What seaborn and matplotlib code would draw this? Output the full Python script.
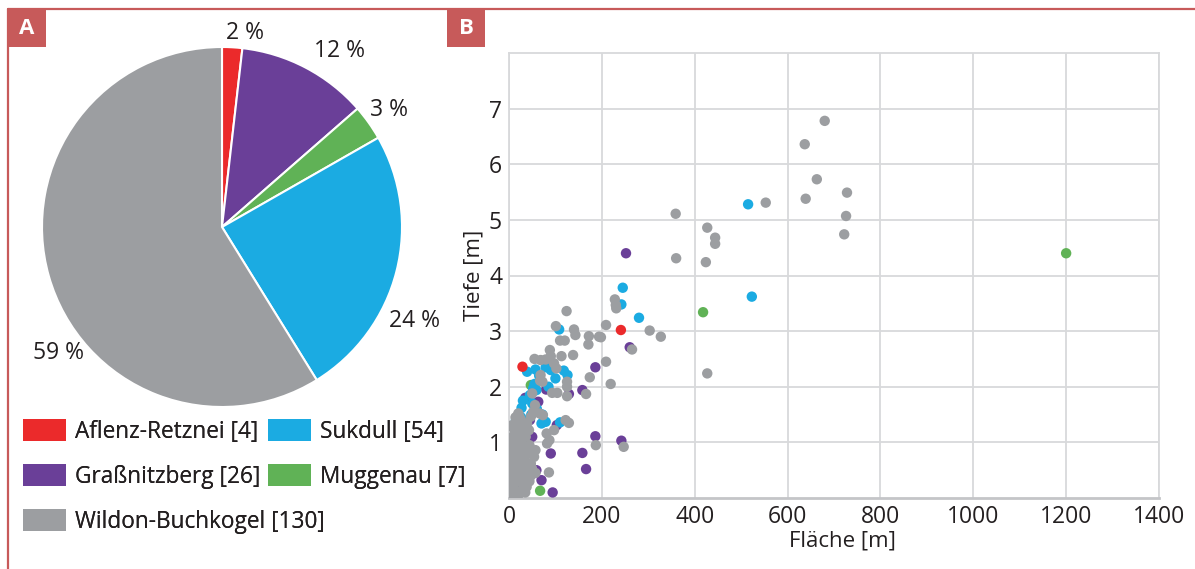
import matplotlib
matplotlib.use("Agg")
import matplotlib.pyplot as plt
import matplotlib.patches as mpatches
import seaborn as sns
import pandas as pd

# Fundstellen und Anzahl der Gruben
orte = ["Aflenz-Retznei", "Graßnitzberg", "Muggenau", "Sukdull", "Wildon-Buchkogel"]
anzahl = [4, 26, 7, 54, 130]
prozent_text = ["2 %", "12 %", "3 %", "24 %", "59 %"]
farben = ["#eb2a2b", "#6a3f98", "#60b256", "#1babe2", "#9c9ea1"]

# Streudiagramm: (Fläche [m], Tiefe [m]) je Fundstelle
punkte_aflenz = [(241, 3.02), (29, 2.36), (29, 0.40), (18, 0.30)]

punkte_muggenau = [(1200, 4.40), (418, 3.34), (47, 2.03), (17, 0.99),
                   (67, 0.13), (15, 0.80), (10, 0.40)]

punkte_grassnitz = [(252, 4.40), (260, 2.71), (186, 2.35), (129, 1.87), (158, 1.94),
                    (63, 1.73), (103, 1.31), (186, 1.11), (242, 1.03), (90, 0.80),
                    (158, 0.81), (166, 0.52), (70, 0.32), (94, 0.10), (59, 0.50),
                    (36, 0.83), (30, 1.00), (20, 0.60), (45, 1.40), (25, 0.20),
                    (12, 0.50), (35, 1.80), (80, 1.95), (50, 1.10), (15, 0.90),
                    (40, 0.30)]

punkte_sukdull = [(515, 5.28), (523, 3.62), (245, 3.78), (242, 3.48), (280, 3.24),
                  (108, 3.03), (39, 2.27), (57, 2.31), (79, 2.35), (118, 2.29),
                  (126, 2.21), (54, 2.00), (59, 1.94), (85, 2.00), (27, 1.62),
                  (70, 1.34), (79, 1.37), (110, 1.36), (9, 0.93), (24, 0.80),
                  (72, 1.50), (8, 0.77), (27, 0.88), (52, 1.97), (30, 0.54),
                  (6, 0.30), (8, 0.60), (12, 1.10), (15, 1.40), (18, 0.20),
                  (22, 1.20), (25, 0.50), (26, 1.45), (30, 1.75), (10, 0.15),
                  (35, 0.90), (20, 0.70), (14, 1.00), (26, 0.95), (32, 1.30),
                  (3, 0.60), (48, 1.50), (50, 1.70), (55, 2.05), (65, 2.20),
                  (60, 1.60), (45, 1.85), (38, 1.20), (42, 0.60), (16, 0.40),
                  (33, 0.25), (5, 1.00), (90, 2.30), (100, 2.15)]

punkte_wildon = [
    (680, 6.78), (637, 6.36), (663, 5.73), (728, 5.49), (639, 5.38), (726, 5.07),
    (722, 4.74), (553, 5.31), (427, 4.86), (444, 4.68), (444, 4.57), (424, 4.24),
    (427, 2.24), (359, 5.11), (360, 4.31),
    (228, 3.57), (230, 3.47), (231, 3.41), (209, 3.11), (303, 3.01), (327, 2.90),
    (198, 2.89), (265, 2.67), (209, 2.45), (219, 2.05), (247, 0.92), (187, 0.95),
    (124, 3.36), (101, 3.09), (140, 3.03), (143, 2.93), (172, 2.91), (194, 2.90),
    (171, 2.76), (110, 2.83), (120, 2.83), (88, 2.66), (90, 2.55), (113, 2.55),
    (138, 2.57), (55, 2.50), (68, 2.48), (79, 2.49), (97, 2.42), (68, 2.21),
    (102, 2.33), (72, 2.09), (67, 2.11), (125, 2.09), (174, 2.17), (93, 1.89),
    (104, 1.89), (50, 1.88), (125, 2.00), (125, 1.83), (166, 1.87), (56, 1.67),
    (52, 1.55), (47, 1.46), (20, 1.52), (17, 1.34), (20, 1.22), (66, 1.52),
    (73, 1.49), (122, 1.40), (129, 1.35), (97, 1.22), (81, 1.16), (87, 1.04),
    (39, 1.34), (43, 1.22), (36, 1.10), (86, 0.46), (50, 0.50), (47, 0.62),
    (54, 0.74), (57, 0.86), (82, 0.98), (49, 0.54), (57, 0.45), (47, 0.40),
    (3, 0.10), (5, 0.20), (8, 0.10), (12, 0.15), (15, 0.30), (4, 0.35),
    (10, 0.40), (18, 0.45), (6, 0.55), (14, 0.60), (22, 0.65), (3, 0.70),
    (9, 0.75), (17, 0.80), (25, 0.85), (5, 0.90), (12, 0.95), (20, 1.00),
    (28, 1.05), (7, 1.10), (15, 1.15), (24, 1.20), (10, 1.25), (18, 1.30),
    (26, 1.40), (14, 1.45), (30, 0.95), (33, 0.70), (36, 0.55), (40, 0.40),
    (44, 0.30), (38, 0.20), (30, 0.25), (25, 0.12), (20, 0.05), (35, 0.10),
    (28, 0.50), (32, 1.25), (40, 0.80), (44, 0.95), (1, 0.25), (2, 0.50),
    (1, 0.80), (2, 1.05), (4, 1.30), (7, 0.05), (11, 0.65), (16, 0.90),
    (22, 0.30), (27, 0.70), (34, 0.40), (42, 0.60), (13, 1.35), (23, 1.45)]

x_ticks = [0, 200, 400, 600, 800, 1000, 1200, 1400]
y_ticks = [1, 2, 3, 4, 5, 6, 7]

# Reihenfolge beim Zeichnen: grau zuletzt (liegt oben)
gruppen = [("Graßnitzberg", punkte_grassnitz), ("Muggenau", punkte_muggenau),
           ("Sukdull", punkte_sukdull), ("Aflenz-Retznei", punkte_aflenz),
           ("Wildon-Buchkogel", punkte_wildon)]
zeilen = []
for ort, pts in gruppen:
    for fl, ti in pts:
        zeilen.append({"Ort": ort, "Fläche": fl, "Tiefe": ti})
df = pd.DataFrame(zeilen)

sns.set_style("white")
plt.rcParams["font.family"] = ["Open Sans", "DejaVu Sans"]
text_farbe = "#231f20"
rahmen = "#c75a5a"

fig = plt.figure(figsize=(11.95, 5.69), dpi=100)
W, H = 1195, 569

# Rahmen oben und links
fig.add_artist(plt.Line2D([8 / W, 1], [1 - 9 / H, 1 - 9 / H], color=rahmen, lw=1.6,
                          transform=fig.transFigure))
fig.add_artist(plt.Line2D([8 / W, 8 / W], [0, 1 - 9 / H], color=rahmen, lw=1.6,
                          transform=fig.transFigure))

# Buchstaben A / B
for buchst, x0 in [("A", 8), ("B", 447)]:
    fig.add_artist(mpatches.Rectangle((x0 / W, 1 - 47 / H), 38 / W, 37 / H,
                                      transform=fig.transFigure, color=rahmen, lw=0))
    fig.text((x0 + 19) / W, 1 - 28.5 / H, buchst, color="white", fontsize=16,
             fontweight="bold", ha="center", va="center")

# ---- A: Kreisdiagramm ----
ax_pie = fig.add_axes([42 / W, 1 - 407 / H, 360 / W, 360 / H])
keile, _ = ax_pie.pie(anzahl, colors=farben, startangle=90, counterclock=False,
                      wedgeprops=dict(edgecolor="white", linewidth=1.5))
ax_pie.set_xlim(-1, 1)
ax_pie.set_ylim(-1, 1)
ax_pie.set_aspect("equal")
ax_pie.axis("off")

label_pos = [(0.13, 1.08), (0.65, 0.98), (0.93, 0.65), (1.07, -0.52), (-0.91, -0.70)]
for txt, (lx, ly) in zip(prozent_text, label_pos):
    ax_pie.text(lx, ly, txt, fontsize=16.5, color=text_farbe, ha="center", va="center")

# Legende in zwei Spalten (die lange Zeile läuft unter die zweite Spalte)
leg_kw = dict(loc="upper left", bbox_transform=fig.transFigure, frameon=False,
              fontsize=16.3, handlelength=1.9, handleheight=1.12, labelspacing=0.9,
              handletextpad=0.4, borderpad=0, borderaxespad=0, labelcolor=text_farbe)
for spalte, x_links in [([0, 1, 4], 23), ([3, 2], 268)]:
    handles = [mpatches.Patch(facecolor=farben[i], edgecolor="none") for i in spalte]
    labels = [f"{orte[i]} [{anzahl[i]}]" for i in spalte]
    leg = fig.legend(handles, labels, bbox_to_anchor=(x_links / W, 1 - 419 / H), **leg_kw)
    fig.add_artist(leg)

# ---- B: Streudiagramm ----
ax = fig.add_axes([509 / W, 1 - 498 / H, 650 / W, 445 / H])
palette = dict(zip(orte, farben))
sns.scatterplot(data=df, x="Fläche", y="Tiefe", hue="Ort", palette=palette,
                s=56, linewidth=0, alpha=1, legend=False, ax=ax, zorder=3)
ax.set_xlim(0, 1400)
ax.set_ylim(0, 8)
ax.set_xticks(x_ticks)
ax.set_yticks(y_ticks)
ax.grid(True, color="#d8d9db", lw=1.3)
ax.set_axisbelow(True)
for side in ["top", "right", "left"]:
    ax.spines[side].set_color("#d8d9db")
    ax.spines[side].set_linewidth(1.3)
ax.spines["bottom"].set_color("#c4c5c8")
ax.spines["bottom"].set_linewidth(2)
ax.tick_params(length=0, colors=text_farbe, pad=5, labelsize=16.5)
ax.set_xlabel("Fläche [m]", fontsize=16, color=text_farbe, labelpad=0)
ax.set_ylabel("Tiefe [m]", fontsize=16, color=text_farbe, labelpad=3)
ax.xaxis.set_label_coords(0.513, -0.073)

fig.savefig("out.png", dpi=100)
